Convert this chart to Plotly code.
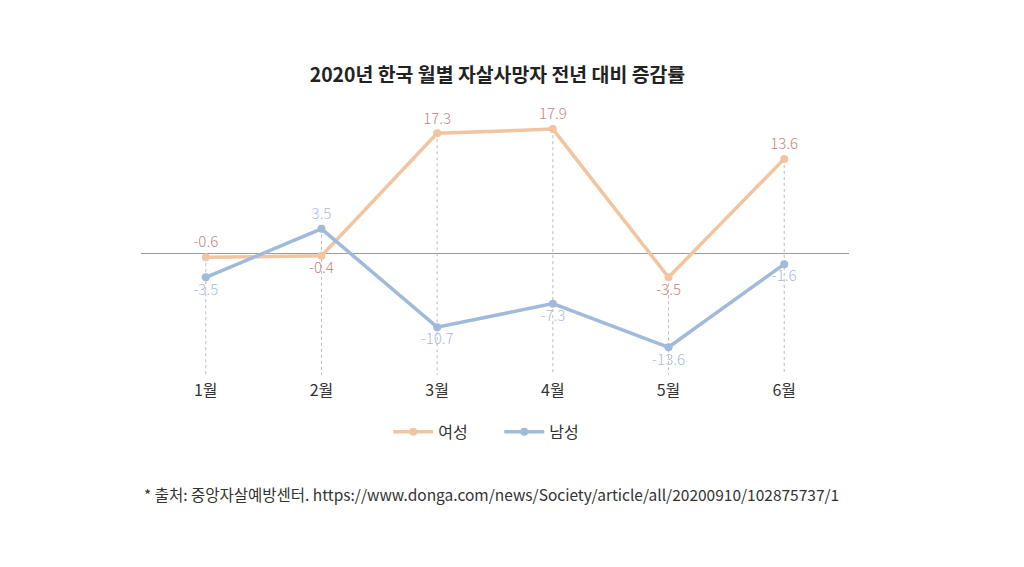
import plotly.graph_objects as go

months = ["1월", "2월", "3월", "4월", "5월", "6월"]
female = [-0.6, -0.4, 17.3, 17.9, -3.5, 13.6]
male = [-3.5, 3.5, -10.7, -7.3, -13.6, -1.6]
female_pos = ["top center", "bottom center", "top center", "top center", "bottom center", "top center"]
male_pos = ["bottom center", "top center", "bottom center", "bottom center", "bottom center", "bottom center"]

title = "2020년 한국 월별 자살사망자 전년 대비 증감률"
source = "* 출처: 중앙자살예방센터. https://www.donga.com/news/Society/article/all/20200910/102875737/1"

FONT = "Noto Sans CJK KR"
Y_MIN, Y_MAX = -17.6, 22.1

fig = go.Figure()

# vertical dotted guides
gx, gy = [], []
for m, f, ml in zip(months, female, male):
    gx += [m, m, None]
    gy += [max(f, ml), Y_MIN, None]
fig.add_trace(go.Scatter(x=gx, y=gy, mode="lines", line=dict(color="#bbbbbb", width=1, dash="dot"),
                         showlegend=False, hoverinfo="skip"))

fig.add_trace(go.Scatter(
    x=months, y=female, name="여성", mode="lines+markers+text",
    line=dict(color="#f2c49f", width=3.5), marker=dict(size=8, color="#f2c49f"),
    text=[f"{v:.1f}" for v in female], textposition=female_pos,
    textfont=dict(color="#c0877a", size=15, family=FONT, weight=300),
))
fig.add_trace(go.Scatter(
    x=months, y=male, name="남성", mode="lines+markers+text",
    line=dict(color="#a0badb", width=3.5), marker=dict(size=8, color="#a0badb"),
    text=[f"{v:.1f}" for v in male], textposition=male_pos,
    textfont=dict(color="#a6bcd9", size=15, family=FONT, weight=300),
))

fig.update_layout(
    width=1024, height=567,
    paper_bgcolor="white", plot_bgcolor="white",
    margin=dict(l=133, r=183, t=92, b=200, autoexpand=False),
    font=dict(family=FONT, color="#333333"),
    title=dict(text="<b>" + title + "</b>", x=0.478, xanchor="center", y=0.882, yanchor="middle",
               font=dict(size=19.4, color="#222222", family=FONT)),
    xaxis=dict(type="category", range=[-0.56, 5.56], showgrid=False, showline=False,
               ticks="", tickfont=dict(size=16, color="#333333"), fixedrange=True,
               ticklabelstandoff=4),
    yaxis=dict(range=[Y_MIN, Y_MAX], showgrid=False, showticklabels=False, showline=False,
               zeroline=True, zerolinecolor="#9a9a9a", zerolinewidth=1),
    legend=dict(orientation="h", x=0.506, xanchor="center", y=-0.207, yanchor="middle",
                font=dict(size=16, color="#333333"), itemwidth=40,
                entrywidth=56, entrywidthmode="pixels"),
    showlegend=True,
)
fig.add_annotation(text=source, xref="paper", yref="paper", x=0.0014, xanchor="left",
                   y=-0.433, yanchor="middle", showarrow=False,
                   font=dict(size=15.5, color="#333333", family=FONT))

fig.write_html("out.html")
